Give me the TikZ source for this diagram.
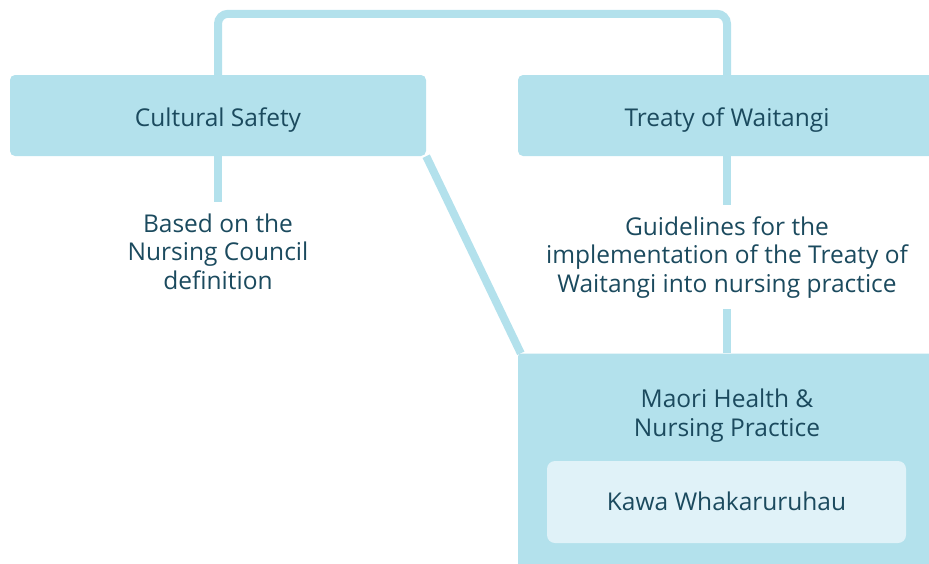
\documentclass[tikz,border=0pt]{standalone}
\usepackage{fontspec}
\setmainfont{Open Sans}
\usetikzlibrary{positioning}
\definecolor{boxblue}{RGB}{179,225,236}
\definecolor{paleblue}{RGB}{224,242,248}
\definecolor{textteal}{RGB}{27,74,94}

\begin{document}
\begin{tikzpicture}[x=1pt,y=-1pt,
  every node/.style={text=textteal, align=center, font=\fontsize{24.5}{28.5}\selectfont},
  box/.style={fill=boxblue, rounded corners=5pt, inner sep=0pt, text height=22pt, text depth=0pt},
  innerbox/.style={fill=paleblue, rounded corners=8pt, inner sep=0pt, text height=17.5pt, text depth=0pt},
  note/.style={anchor=base, inner ysep=11pt},
  link/.style={draw=boxblue, line width=8pt}]
\useasboundingbox (0,0) rectangle (929,563);
\clip (0,0) rectangle (929,563);

% boxes
\node (cs) [box, minimum width=416pt, minimum height=81pt] at (218,115.5) {Cultural Safety};
\node (tw) [box, minimum width=418pt, minimum height=81pt] at (727,115.5) {Treaty of Waitangi};
\node (mh) [box, rounded corners=3pt, minimum width=418pt, minimum height=230pt, anchor=north] at (727,353.3) {};
\node (mhtext) [anchor=base] at (727,436) {Maori Health \&\\Nursing Practice};
\node (kw) [innerbox, minimum width=359pt, minimum height=82pt] at (726.5,502) {Kawa Whakaruruhau};

% notes under the boxes (base = last line)
\node (based) [note] at (218,289) {Based on the\\Nursing Council\\definition};
\node (guide) [note] at (727,292) {Guidelines for the\\implementation of the Treaty of\\Waitangi into nursing practice};

% links
\draw[link, rounded corners=10pt] (cs.north) -- ++(0,-61) -| (tw.north);
\draw[link] (cs.south) -- (based.north);
\draw[link] (tw.south) -- (guide.north);
\draw[link] (guide.south) -- (mh.north);
\draw[link] (cs.south east) -- ([xshift=3pt]mh.north west);
\end{tikzpicture}
\end{document}
